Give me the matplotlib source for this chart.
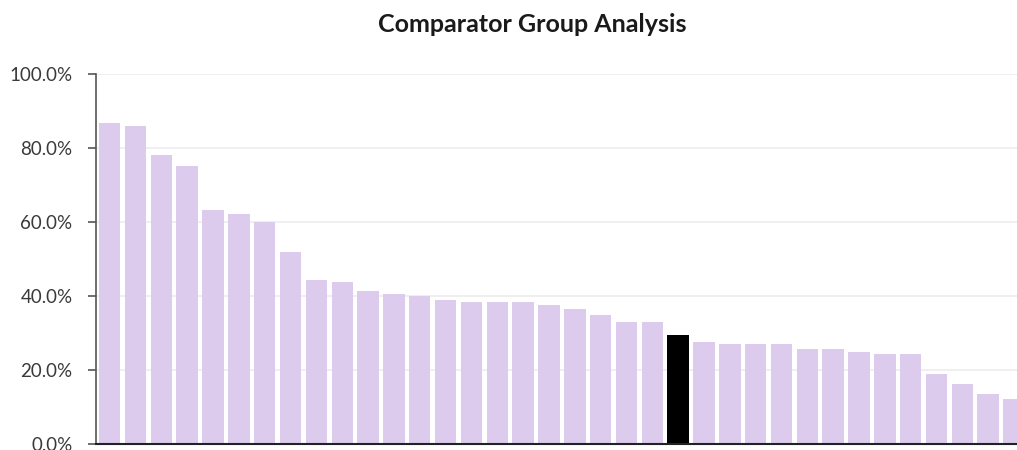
import numpy as np
import matplotlib
matplotlib.use("Agg")
import matplotlib.pyplot as plt
from matplotlib.ticker import PercentFormatter

# share of each comparator, sorted high to low; one entry is our own organisation
values = [0.867, 0.859, 0.781, 0.752, 0.632, 0.621, 0.599, 0.520, 0.444, 0.439,
          0.413, 0.406, 0.401, 0.389, 0.383, 0.383, 0.383, 0.377, 0.364, 0.350,
          0.331, 0.331, 0.295, 0.277, 0.270, 0.270, 0.270, 0.256, 0.256, 0.249,
          0.243, 0.243, 0.188, 0.162, 0.135, 0.122]
highlight = 22
yticks = [0.0, 0.2, 0.4, 0.6, 0.8, 1.0]

barColor = "#dccbed"
ownColor = "#000000"
textColor = "#3a3a3a"

fig = plt.figure(figsize=(10.17, 4.5), dpi=100)
ax = fig.add_axes([0.0944, 0.0133, 0.9154, 0.8222])

x = np.arange(len(values))
colors = [ownColor if i == highlight else barColor for i in range(len(values))]
ax.bar(x, values, width=0.83, color=colors, zorder=2)

ax.set_ylim(0, 1)
ax.set_xlim(-0.53, 35.5)
ax.set_yticks(yticks)
ax.yaxis.set_major_formatter(PercentFormatter(1, decimals=1))
ax.set_xticks([])

ax.grid(axis="y", color="#ececec", linewidth=1.2, zorder=0)
for side in ["top", "right"]:
    ax.spines[side].set_visible(False)
ax.spines["left"].set_color("#555555")
ax.spines["left"].set_linewidth(1.2)
ax.spines["bottom"].set_color("#222222")
ax.spines["bottom"].set_linewidth(1.5)
ax.tick_params(axis="y", length=6, width=1.2, color="#555555", pad=11,
               labelsize=13.5, labelcolor=textColor)
for lbl in ax.get_yticklabels():
    lbl.set_fontfamily("Lato")

fig.text(0.523, 0.945, "Comparator Group Analysis", ha="center", va="center",
         fontsize=18, fontweight="bold", family="Lato", color="#1a1a1a")

fig.savefig("out.png", dpi=100)
